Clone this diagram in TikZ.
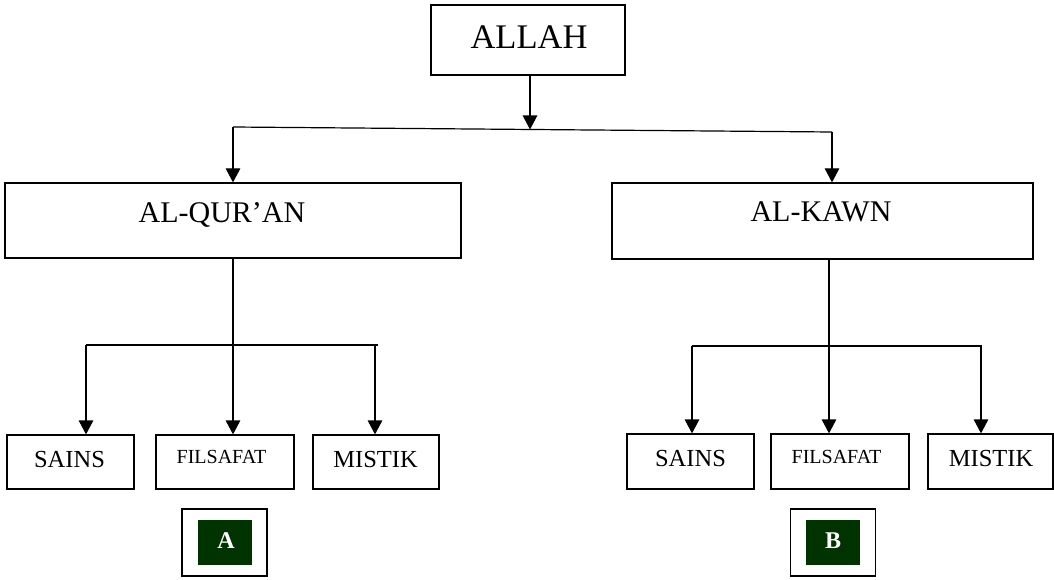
\documentclass[tikz,border=0pt]{standalone}
\usepackage{fontspec}
\setmainfont{Liberation Serif}
\usetikzlibrary{arrows.meta}
\definecolor{dkgreen}{RGB}{0,51,0}
\begin{document}
\begin{tikzpicture}[x=1pt,y=-1pt,
  box/.style={draw, line width=1.2pt, inner sep=0pt, rectangle},
  lbl/.style={anchor=base, inner sep=0pt},
  conn/.style={line width=1.2pt},
  arr/.style={line width=1.2pt, -{Triangle[width=14.5pt,length=14pt]}},
  tagbox/.style={box, line width=1.5pt, minimum width=85pt, minimum height=67pt},
  tagfill/.style={fill=dkgreen, inner sep=0pt, minimum width=54pt, minimum height=45pt}
]
\useasboundingbox (0,0) rectangle (1054,580);

% boxes
\node[box, minimum width=194pt, minimum height=70pt] (allah) at (528,40) {};
\node[box, minimum width=456pt, minimum height=75pt] (quran) at (233,220.5) {};
\node[box, minimum width=421pt, minimum height=76pt] (kawn) at (822.5,221) {};
\node[box, minimum width=127pt, minimum height=54pt] (s1) at (70.5,462) {};
\node[box, minimum width=138pt, minimum height=54pt] (f1) at (225,462) {};
\node[box, minimum width=126pt, minimum height=54pt] (m1) at (376,462) {};
\node[box, minimum width=127pt, minimum height=55pt] (s2) at (690.5,461.5) {};
\node[box, minimum width=138pt, minimum height=55pt] (f2) at (840,461.5) {};
\node[box, minimum width=125pt, minimum height=55pt] (m2) at (990.5,461.5) {};
\node[tagbox] (ta) at (224.5,542.5) {};
\node[tagfill] (tai) at (225,542.5) {};
\node[tagbox] (tb) at (833,542.5) {};
\node[tagfill] (tbi) at (833,542.5) {};

% labels
\node[lbl, font=\fontsize{34.5}{35}\selectfont] (tallah) at (529,48.5) {ALLAH};
\node[lbl, font=\fontsize{30}{30}\selectfont] (tquran) at (222,222.5) {AL-QUR’AN};
\node[lbl, font=\fontsize{30}{30}\selectfont] (tkawn) at (821,221.5) {AL-KAWN};
\node[lbl, font=\fontsize{24.5}{25}\selectfont] (ts1) at (69.5,467) {SAINS};
\node[lbl, font=\fontsize{20}{20}\selectfont] (tf1) at (221.5,463) {FILSAFAT};
\node[lbl, font=\fontsize{24.5}{25}\selectfont] (tm1) at (375.5,467) {MISTIK};
\node[lbl, font=\fontsize{24.5}{25}\selectfont] (ts2) at (690.5,466) {SAINS};
\node[lbl, font=\fontsize{20}{20}\selectfont] (tf2) at (836.5,463) {FILSAFAT};
\node[lbl, font=\fontsize{24.5}{25}\selectfont] (tm2) at (991,466) {MISTIK};
\node[lbl, font=\fontsize{24}{24}\selectfont\bfseries, text=white] (tA) at (226,548) {A};
\node[lbl, font=\fontsize{24}{24}\selectfont\bfseries, text=white] (tB) at (833,548) {B};

% connector coordinates
\coordinate (t0) at (530,129.5);
\coordinate (jl) at (233,127);
\coordinate (jr) at (832,132);
\coordinate (ll) at (86,345);
\coordinate (lr) at (378,345);
\coordinate (lm) at (375,345);
\coordinate (rl) at (692,346);
\coordinate (rr) at (982,346);
\coordinate (rm) at (981,346);
\coordinate (rc) at (829,346);

% top level
\draw[arr] (allah.south -| t0) -- (t0);
\draw[conn] (jl) -- (jr);
\draw[arr] (jl) -- (jl |- quran.north);
\draw[arr] (jr) -- (jr |- kawn.north);

% left subtree
\draw[conn] (ll) -- (lr);
\draw[arr] (quran.south) -- (quran.south |- f1.north);
\draw[arr] (ll) -- (ll |- s1.north);
\draw[arr] (lm) -- (lm |- m1.north);

% right subtree
\draw[conn] (rl) -- (rr);
\draw[arr] (kawn.south -| rc) -- (rc |- f2.north);
\draw[arr] (rl) -- (rl |- s2.north);
\draw[arr] (rm) -- (rm |- m2.north);
\end{tikzpicture}
\end{document}
